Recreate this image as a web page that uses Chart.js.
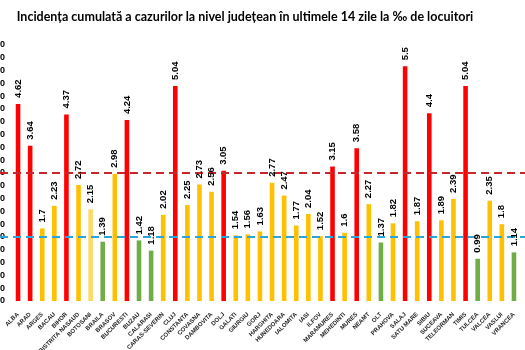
<!DOCTYPE html>
<html>
<head>
<meta charset="utf-8">
<script src="https://cdn.jsdelivr.net/npm/chart.js@4.4.0/dist/chart.umd.min.js"></script>
<style>
  html, body { margin: 0; padding: 0; background: #fff; overflow: hidden; }
  #wrap { position: absolute; left: -30px; top: 0; width: 555px; height: 350px; }
</style>
</head>
<body>
<div id="wrap"><canvas id="myChart"></canvas></div>
<script>
// judete
const counties = ['ALBA', 'ARAD', 'ARGES', 'BACAU', 'BIHOR', 'BISTRITA NASAUD', 'BOTOSANI', 'BRAILA',
    'BRASOV', 'BUCURESTI', 'BUZAU', 'CALARASI', 'CARAS-SEVERIN', 'CLUJ', 'CONSTANTA', 'COVASNA',
    'DAMBOVITA', 'DOLJ', 'GALATI', 'GIURGIU', 'GORJ', 'HARGHITA', 'HUNEDOARA', 'IALOMITA', 'IASI',
    'ILFOV', 'MARAMURES', 'MEHEDINTI', 'MURES', 'NEAMT', 'OLT', 'PRAHOVA', 'SALAJ', 'SATU MARE',
    'SIBIU', 'SUCEAVA', 'TELEORMAN', 'TIMIS', 'TULCEA', 'VALCEA', 'VASLUI', 'VRANCEA'];

const incidence = [4.62, 3.64, 1.7, 2.23, 4.37, 2.72, 2.15, 1.39,
    2.98, 4.24, 1.42, 1.18, 2.02, 5.04, 2.25, 2.73,
    2.56, 3.05, 1.54, 1.56, 1.63, 2.77, 2.47, 1.77, 2.04,
    1.52, 3.15, 1.6, 3.58, 2.27, 1.37, 1.82, 5.5, 1.87,
    4.4, 1.89, 2.39, 5.04, 0.99, 2.35, 1.8, 1.14];

const thresholds = [3, 1.5];
const thresholdColors = ['#C9252C', '#2AA4D9'];

function barColor(v, i) {
    if (counties[i] === 'BOTOSANI') return '#FFD966';
    if (v > thresholds[0]) return '#FF0000';
    if (v >= thresholds[1]) return '#FFC000';
    return '#70AD47';
}

const refLines = {
    id: 'refLines',
    afterDatasetsDraw(chart) {
        const ctx = chart.ctx;
        const y = chart.scales.y;
        ctx.save();
        ctx.lineWidth = 2;
        ctx.setLineDash([8, 5]);
        for (var i = 0; i < thresholds.length; i++) {
            const py = Math.round(y.getPixelForValue(thresholds[i]));
            ctx.strokeStyle = thresholdColors[i];
            ctx.beginPath();
            ctx.moveTo(30, py);
            ctx.lineTo(chart.width, py);
            ctx.stroke();
        }
        ctx.restore();

        // value labels, rotated
        const meta = chart.getDatasetMeta(0);
        ctx.save();
        ctx.fillStyle = '#000';
        ctx.font = 'bold 9.5px "Liberation Sans", Arial, sans-serif';
        ctx.textAlign = 'left';
        ctx.textBaseline = 'middle';
        meta.data.forEach(function (bar, i) {
            ctx.save();
            ctx.translate(bar.x, bar.y - 6);
            ctx.rotate(-Math.PI / 2);
            ctx.fillText(String(incidence[i]), 0, 0);
            ctx.restore();
        });
        ctx.restore();
    }
};

new Chart(document.getElementById('myChart').getContext('2d'), {
    type: 'bar',
    data: {
        labels: counties,
        datasets: [{
            data: incidence,
            backgroundColor: incidence.map(barColor),
            barPercentage: 0.38,
            categoryPercentage: 1
        }]
    },
    options: {
        responsive: true,
        maintainAspectRatio: false,
        animation: false,
        layout: { padding: { top: 0, right: 5, bottom: 0, left: 0 } },
        plugins: {
            legend: { display: false },
            tooltip: { enabled: false },
            title: {
                display: true,
                text: 'Incidența cumulată a cazurilor la nivel județean în ultimele 14 zile la ‰ de locuitori',
                color: '#000',
                font: { family: 'Lato, sans-serif', size: 12.5, weight: 'bold' },
                padding: { top: 9, bottom: 21 }
            }
        },
        scales: {
            x: {
                grid: { display: false },
                border: { display: false },
                ticks: {
                    color: '#222',
                    font: { family: '"Liberation Sans", Arial, sans-serif', size: 6, weight: 'bold' },
                    maxRotation: 45,
                    minRotation: 45,
                    autoSkip: false,
                    padding: 2
                },
                afterFit(scale) { scale.height = 49; }
            },
            y: {
                min: 0,
                max: 6,
                grid: { display: false, drawTicks: false },
                border: { display: false },
                ticks: {
                    stepSize: 0.3,
                    maxTicksLimit: 40,
                    autoSkip: false,
                    color: '#000',
                    padding: 7,
                    font: { family: '"Liberation Sans", Arial, sans-serif', size: 9, weight: 'bold' },
                    callback: function (v) { return Number(v).toFixed(2); }
                },
                afterFit(scale) { scale.width = 42; }
            }
        }
    },
    plugins: [refLines]
});
</script>
</body>
</html>
